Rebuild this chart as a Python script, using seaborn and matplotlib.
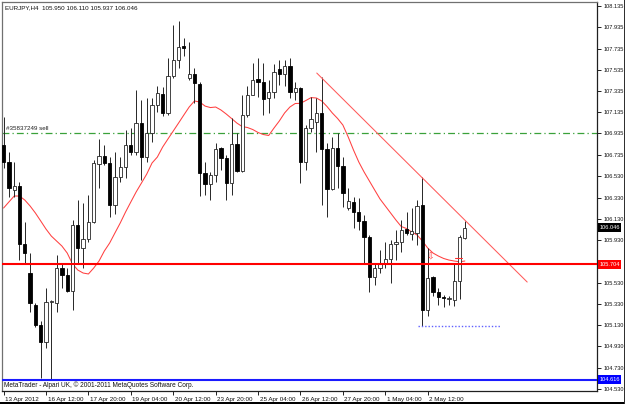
import matplotlib
matplotlib.use("Agg")
import matplotlib.pyplot as plt
import matplotlib.transforms as mtransforms
from matplotlib.patches import Rectangle
from matplotlib import font_manager as fm
import numpy as np
import pandas as pd
import seaborn as sns

# ---------------- data ----------------
header_text = "EURJPY,H4  105.950 106.110 105.937 106.046"
footer_text = "MetaTrader - Alpari UK, \u00a9 2001-2011 MetaQuotes Software Corp."
order_text = "#35837249 sell"

opens = [106.826, 106.669, 106.402, 106.440, 105.894, 105.621, 105.320, 105.131, 104.974, 105.348,
         105.338, 105.668, 105.602, 105.451, 106.073, 105.859, 105.941, 106.101, 106.647, 106.725,
         106.654, 106.261, 106.525, 106.616, 106.826, 106.763, 107.033, 106.716, 106.939, 107.203,
         107.306, 107.128, 107.476, 107.627, 107.758, 107.457, 107.495, 107.401, 106.563, 106.459,
         106.544, 106.798, 106.704, 106.466, 106.836, 106.581, 107.109, 107.297, 107.448, 107.422,
         107.269, 107.325, 107.542, 107.495, 107.570, 107.322, 107.366, 106.669, 106.986, 107.043,
         107.128, 106.789, 106.412, 106.798, 106.631, 106.233, 106.292, 106.192, 106.111, 105.963,
         105.586, 105.668, 105.706, 105.753, 105.894, 105.913, 106.035, 105.993, 105.998, 106.261,
         105.273, 105.583, 105.442, 105.395, 105.378, 105.367, 105.546, 105.950]
highs = [107.093, 106.763, 106.669, 106.481, 106.104, 105.809, 105.338, 105.169, 105.480, 105.367,
         105.790, 105.706, 105.668, 106.120, 106.308, 106.280, 106.355, 106.685, 106.883, 106.826,
         106.716, 106.763, 106.716, 106.967, 106.986, 107.344, 107.250, 107.269, 107.269, 107.385,
         107.372, 107.645, 107.956, 107.994, 107.834, 107.796, 107.551, 107.419, 106.666, 106.572,
         106.845, 106.807, 106.732, 107.080, 106.939, 107.297, 107.385, 107.598, 107.645, 107.598,
         107.438, 107.589, 107.627, 107.627, 107.645, 107.422, 107.375, 107.014, 107.278, 107.269,
         107.469, 106.845, 106.904, 106.939, 106.716, 106.421, 106.339, 106.330, 106.167, 105.979,
         105.715, 105.838, 105.916, 105.932, 106.026, 106.120, 106.198, 106.233, 106.308, 106.525,
         105.856, 105.593, 105.480, 105.414, 105.405, 105.715, 105.979, 106.110]
lows = [106.607, 106.339, 106.339, 105.743, 105.712, 105.257, 105.115, 104.632, 104.915, 104.616,
        105.257, 105.480, 105.442, 105.273, 105.715, 105.668, 105.913, 106.092, 106.421, 106.638,
        106.151, 106.174, 106.481, 106.513, 106.732, 106.732, 106.497, 106.669, 106.857, 107.140,
        107.099, 107.109, 107.457, 107.551, 107.664, 107.438, 107.222, 106.346, 106.355, 106.308,
        106.478, 106.591, 106.308, 106.355, 106.572, 106.572, 107.093, 107.297, 107.278, 107.109,
        107.128, 107.269, 107.391, 107.385, 107.269, 107.250, 106.468, 106.591, 106.949, 106.760,
        106.261, 106.151, 106.402, 106.421, 106.245, 106.214, 106.045, 106.026, 105.715, 105.445,
        105.508, 105.621, 105.668, 105.530, 105.743, 105.822, 105.979, 105.932, 105.885, 105.120,
        105.216, 105.404, 105.320, 105.301, 105.322, 105.310, 105.376, 105.937]
closes = [106.669, 106.419, 106.440, 105.894, 105.809, 105.338, 105.131, 104.974, 105.348, 105.357,
          105.668, 105.602, 105.451, 106.073, 105.859, 105.941, 106.101, 106.657, 106.725, 106.654,
          106.261, 106.525, 106.616, 106.826, 106.763, 107.033, 106.716, 106.939, 107.203, 107.316,
          107.128, 107.476, 107.627, 107.752, 107.744, 107.495, 107.410, 106.563, 106.459, 106.544,
          106.789, 106.704, 106.466, 106.836, 106.581, 107.109, 107.297, 107.438, 107.422, 107.259,
          107.325, 107.514, 107.495, 107.570, 107.328, 107.366, 106.669, 106.986, 107.071, 107.128,
          106.789, 106.412, 106.801, 106.631, 106.374, 106.299, 106.192, 106.111, 105.963, 105.586,
          105.668, 105.706, 105.753, 105.894, 105.913, 106.026, 105.995, 106.012, 106.252, 105.273,
          105.574, 105.442, 105.395, 105.386, 105.386, 105.546, 105.960, 106.046]
ma_values = [106.233, 106.290, 106.346, 106.346, 106.308, 106.252, 106.186, 106.111, 106.035, 105.969,
             105.922, 105.875, 105.809, 105.706, 105.649, 105.621, 105.612, 105.668, 105.734, 105.828,
             105.903, 105.998, 106.092, 106.195, 106.290, 106.384, 106.468, 106.553, 106.657, 106.713,
             106.807, 106.883, 106.958, 107.033, 107.109, 107.184, 107.241, 107.231, 107.193, 107.179,
             107.184, 107.156, 107.118, 107.076, 107.033, 107.000, 106.991, 106.972, 106.944, 106.925,
             106.916, 106.986, 107.052, 107.128, 107.184, 107.217, 107.219, 107.245, 107.273, 107.269,
             107.241, 107.189, 107.128, 107.076, 107.014, 106.902, 106.779, 106.666, 106.572, 106.487,
             106.402, 106.318, 106.252, 106.186, 106.120, 106.059, 106.040, 106.007, 105.979, 105.922,
             105.856, 105.809, 105.781, 105.758, 105.743, 105.734, 105.727, 105.734]

time_tick_bars = [0, 8, 16, 24, 32, 40, 48, 56, 64, 72, 80]
time_tick_labels = ["13 Apr 2012", "16 Apr 12:00", "17 Apr 20:00", "19 Apr 04:00", "20 Apr 12:00",
                    "23 Apr 20:00", "25 Apr 04:00", "26 Apr 12:00", "27 Apr 20:00", "1 May 04:00",
                    "2 May 12:00"]
price_ticks = [108.135, 107.935, 107.735, 107.535, 107.335, 107.135, 106.935, 106.735, 106.530,
               106.330, 106.130, 105.930, 105.530, 105.330, 105.130, 104.930, 104.730, 104.530]

order_price = 106.935
support_price = 105.704
range_low_price = 104.616
current_price = 106.046
trend_bars = [59.07, 98.76]
trend_prices = [107.504, 105.536]
low_mark_bars = [78.07, 93.87]
low_mark_price = 105.122
arrow_bar, arrow_price = 80.5, 105.775
close_mark_bars = [85.2, 86.5]
close_mark_price = 105.758

# ---------------- style ----------------
sns.set_theme(style="white")
names = {f.name for f in fm.fontManager.ttflist}
if "Liberation Sans Narrow" in names:
    FONT, FS, FSY = "Liberation Sans Narrow", 5.4, 5.1
else:
    FONT, FS, FSY = "Liberation Sans", 4.5, 4.1
plt.rcParams["font.family"] = [FONT, "DejaVu Sans"]

W, H = 625, 404
fig = plt.figure(figsize=(W / 100, H / 100), dpi=100)
fig.patch.set_facecolor("white")
L, R, T, B = 2, 597, 2, 391
ax = fig.add_axes([L / W, (H - B) / H, (R - L) / W, (B - T) / H])
ax.set_facecolor("white")

df = pd.DataFrame({"bar": np.arange(len(opens)), "open": opens, "high": highs,
                   "low": lows, "close": closes, "ma": ma_values})
bull = df["close"] >= df["open"]
body_lo = np.minimum(df["open"], df["close"])
body_h = np.maximum((df["close"] - df["open"]).abs(), 0.003)

# horizontal reference lines
ax.axhline(order_price, color="#3aa13a", lw=0.9, ls=(0, (5.5, 2.5, 1, 2.5)), zorder=1)
ax.axhline(support_price, color="#ff0000", lw=1.5, zorder=6)
ax.axhline(range_low_price, color="#1a1aff", lw=1.5, zorder=6)

# moving average
sns.lineplot(data=df, x="bar", y="ma", ax=ax, color="#ff4040", lw=0.75, zorder=2, legend=False)

# candles
wick_c = "#262626"
ax.vlines(df["bar"], df["low"], df["high"], color=wick_c, lw=0.7, zorder=3)
ax.bar(df["bar"][bull], body_h[bull], bottom=body_lo[bull], width=0.62,
       color="white", edgecolor=wick_c, linewidth=0.6, zorder=4)
ax.bar(df["bar"][~bull], body_h[~bull], bottom=body_lo[~bull], width=0.62,
       color="black", edgecolor="black", linewidth=0.6, zorder=4)

# trend line and marks
ax.plot(trend_bars, trend_prices, color="#ff5a5a", lw=0.75, zorder=5)
ax.plot(low_mark_bars, [low_mark_price] * 2, color="#6060ff", lw=1.0, ls=(0, (1, 1.4)), zorder=5)
ax.plot(close_mark_bars, [close_mark_price] * 2, color="#ff3030", lw=0.8, zorder=5)
ax.text(arrow_bar, arrow_price, "\u21e9", color="#ff2a2a", fontsize=6.5, family="DejaVu Sans",
        ha="center", va="center", zorder=6)

# texts
ax.text(0.5, order_price + 0.025, order_text, fontsize=FS, color="#202020", va="bottom", ha="left")
fig.text(5 / W, 1 - 8 / H, header_text, fontsize=FS, color="#101010", va="center", ha="left")
fig.text(4 / W, 1 - 385.5 / H, footer_text, fontsize=FS + 0.2, color="#101010", va="center", ha="left")

# axes
ax.set_xlim(-0.3, (R - 2) / 5.316)
ax.set_ylim(104.510, 108.173)
ax.set_xlabel("")
ax.set_ylabel("")
ax.yaxis.tick_right()
ax.set_yticks(price_ticks)
ax.set_yticklabels([f"{p:.3f}" for p in price_ticks], fontsize=FSY, color="#101010")
ax.set_xticks(time_tick_bars)
ax.set_xticklabels(time_tick_labels, fontsize=FS, color="#101010", ha="left")
ax.tick_params(axis="y", which="both", right=True, left=False, length=3, width=0.7,
               color="#202020", pad=1.5)
ax.tick_params(axis="x", which="both", bottom=True, length=3, width=0.7,
               color="#202020", pad=1)
offset = mtransforms.ScaledTranslation(1.5 / 100, 0, fig.dpi_scale_trans)
for lab in ax.get_xticklabels():
    lab.set_transform(lab.get_transform() + offset)
for side in ["left", "top"]:
    ax.spines[side].set_color("#707070")
    ax.spines[side].set_linewidth(0.9)
for side in ["right", "bottom"]:
    ax.spines[side].set_color("#202020")
    ax.spines[side].set_linewidth(0.9)

# price labels on the right scale
trans = mtransforms.blended_transform_factory(ax.transAxes, ax.transData)
box_h = 9 * (108.173 - 104.510) / (B - T)
for price, fc in [(support_price, "#ff0000"), (current_price, "#000000"), (range_low_price, "#0000ff")]:
    ax.add_patch(Rectangle((1.0015, price - box_h / 2), 0.038, box_h, transform=trans,
                           facecolor=fc, edgecolor="none", clip_on=False, zorder=10))
    ax.text(1.0045, price, f"{price:.3f}", transform=trans, fontsize=FSY, color="white",
            va="center", ha="left", clip_on=False, zorder=11)

# dark outer frame strips (bottom and right)
fig.patches.append(Rectangle((0, 0), 1, 2 / H, transform=fig.transFigure, facecolor="black",
                             edgecolor="none", zorder=20))
fig.patches.append(Rectangle((1 - 1 / W, 0), 1 / W, 1, transform=fig.transFigure,
                             facecolor="#303030", edgecolor="none", zorder=20))

fig.savefig("out.png", dpi=100)
